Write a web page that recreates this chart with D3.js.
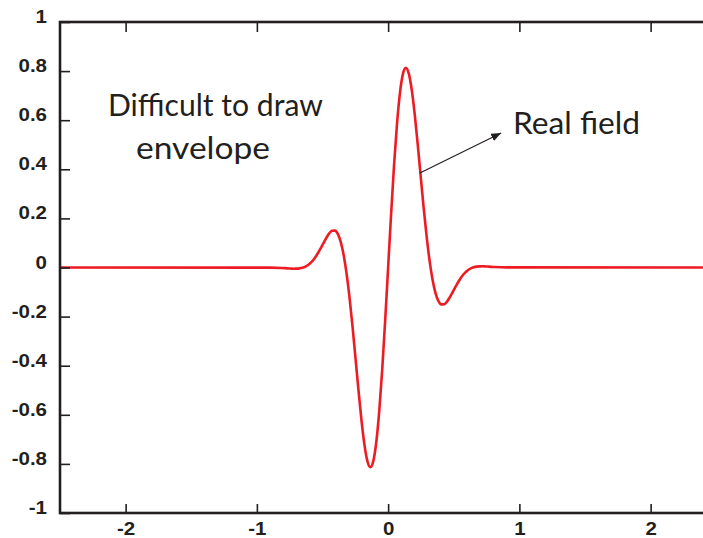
<!DOCTYPE html>
<html>
<head>
<meta charset="utf-8">
<script src="https://cdn.jsdelivr.net/npm/d3@7"></script>
<style>
  html, body { margin: 0; padding: 0; background: #ffffff; overflow: hidden; }
  svg { display: block; }
</style>
</head>
<body>
<script>
// Real part of a short pulse: sample positions and field values
const fieldX = [
  -2.5, -0.9, -0.81, -0.7875, -0.765, -0.7425, -0.72, -0.6975, -0.675, -0.6525, -0.63, -0.6075,
  -0.585, -0.5625, -0.54, -0.5175, -0.495, -0.4725, -0.45, -0.4275, -0.405, -0.3825, -0.36,
  -0.3375, -0.315, -0.2925, -0.27, -0.2475, -0.225, -0.2025, -0.18, -0.1575, -0.135, -0.1125,
  -0.09, -0.0675, -0.045, -0.0225,
  0,
  0.0225, 0.045, 0.0675, 0.09, 0.1125, 0.135, 0.1575, 0.18, 0.2025, 0.225, 0.2475, 0.27,
  0.2925, 0.315, 0.3375, 0.36, 0.3825, 0.405, 0.4275, 0.45, 0.4725, 0.495, 0.5175, 0.54,
  0.5625, 0.585, 0.6075, 0.63, 0.6525, 0.675, 0.6975, 0.72, 0.7425, 0.765, 0.7875, 0.81,
  0.9, 2.5
];
const fieldY = [
  0, -0.0004, -0.0020, -0.0027, -0.0035, -0.0043, -0.0048, -0.0047, -0.0036, -0.0010, 0.0037, 0.0111,
  0.0218, 0.0360, 0.0539, 0.0746, 0.0970, 0.1190, 0.1378, 0.1496, 0.1503, 0.1358, 0.1022,
  0.0469, -0.0311, -0.1305, -0.2474, -0.3751, -0.5045, -0.6245, -0.7234, -0.7894, -0.8131, -0.7876,
  -0.7106, -0.5842, -0.4155, -0.2159,
  0,
  0.2159, 0.4155, 0.5842, 0.7106, 0.7876, 0.8131, 0.7894, 0.7234, 0.6245, 0.5045, 0.3751, 0.2474,
  0.1305, 0.0311, -0.0469, -0.1022, -0.1358, -0.1503, -0.1496, -0.1378, -0.1190, -0.0970, -0.0746, -0.0539,
  -0.0360, -0.0218, -0.0111, -0.0037, 0.0010, 0.0036, 0.0047, 0.0048, 0.0043, 0.0035, 0.0027, 0.0020,
  0.0004, 0
];

const xTicks = [-2, -1, 0, 1, 2];
const xTickLabels = ["-2", "-1", "0", "1", "2"];
const yTicks = [-1, -0.8, -0.6, -0.4, -0.2, 0, 0.2, 0.4, 0.6, 0.8, 1];
const yTickLabels = ["-1", "-0.8", "-0.6", "-0.4", "-0.2", "0", "0.2", "0.4", "0.6", "0.8", "1"];

const noteLines = ["Difficult to draw", "envelope"];
const curveLabel = "Real field";
// arrow from a point on the curve out to the label (data units)
const arrowFrom = [0.242, 0.385];
const arrowTo = [0.861, 0.548];

const W = 703, H = 538;
const x = d3.scaleLinear().domain([-2.5, 2.5]).range([60, 716.25]);
const y = d3.scaleLinear().domain([-1, 1]).range([513, 22]);

const ink = "#231f20";
const red = "#ed1c24";

const svg = d3.select("body").append("svg")
  .attr("width", W).attr("height", H);

const defs = svg.append("defs");
defs.append("clipPath").attr("id", "plot-clip")
  .append("rect")
  .attr("x", x(-2.5)).attr("y", y(1))
  .attr("width", x(2.5) - x(-2.5)).attr("height", y(-1) - y(1));

// curve
const pts = fieldX.map((v, i) => [v, fieldY[i]]);
svg.append("path")
  .datum(pts)
  .attr("clip-path", "url(#plot-clip)")
  .attr("fill", "none")
  .attr("stroke", red)
  .attr("stroke-width", 2.6)
  .attr("stroke-linejoin", "round")
  .attr("d", d3.line().x(d => x(d[0])).y(d => y(d[1])).curve(d3.curveMonotoneX));

// inward ticks on all sides
const tickStyle = g => {
  g.select(".domain").remove();
  g.selectAll(".tick line").attr("stroke", ink).attr("stroke-width", 1.6);
  g.selectAll("text")
    .attr("fill", ink)
    .style("font-family", "'Liberation Sans', Arial, Helvetica, sans-serif")
    .style("font-weight", "bold")
    .style("font-size", "18px");
};

svg.append("g")
  .attr("transform", `translate(${x(-2.5)},0)`)
  .call(d3.axisLeft(y).tickValues(yTicks).tickSize(-10).tickPadding(13)
    .tickFormat((d, i) => yTickLabels[i]))
  .call(tickStyle)
  .call(g => g.selectAll("text")
    .attr("dy", "0.5")
    .attr("transform", "scale(1.14,1)")
    .attr("x", -13 / 1.14));

svg.append("g")
  .attr("transform", `translate(0,${y(-1)})`)
  .call(d3.axisBottom(x).tickValues(xTicks).tickSize(-9)
    .tickFormat((d, i) => xTickLabels[i]))
  .call(tickStyle)
  .call(g => g.selectAll("text").attr("y", 22).attr("dy", "0")
    .attr("transform", "scale(1.14,1)"));

svg.append("g")
  .attr("transform", `translate(0,${y(1)})`)
  .call(d3.axisTop(x).tickValues(xTicks).tickSize(-10).tickFormat(() => ""))
  .call(tickStyle);

svg.append("g")
  .attr("transform", `translate(${x(2.5)},0)`)
  .call(d3.axisRight(y).tickValues(yTicks).tickSize(-10).tickFormat(() => ""))
  .call(tickStyle);

// frame
svg.append("rect")
  .attr("x", x(-2.5)).attr("y", y(1))
  .attr("width", x(2.5) - x(-2.5)).attr("height", y(-1) - y(1))
  .attr("fill", "none").attr("stroke", ink).attr("stroke-width", 2.6);

// annotations
const noteFont = "Lato, 'Noto Sans', 'DejaVu Sans', sans-serif";
const note = (txt, px, py, len) => svg.append("text")
  .attr("x", px).attr("y", py)
  .attr("fill", ink)
  .attr("textLength", len)
  .attr("lengthAdjust", "spacingAndGlyphs")
  .style("font-family", noteFont)
  .style("font-weight", 400)
  .style("font-size", "30px")
  .text(txt);
note(noteLines[0], 108, 116, 215);
note(noteLines[1], 136, 159, 134);
note(curveLabel, 513, 134, 127);

defs.append("marker")
  .attr("id", "arrow-head")
  .attr("viewBox", "0 0 10 8")
  .attr("refX", 10).attr("refY", 4)
  .attr("markerWidth", 10).attr("markerHeight", 8)
  .attr("markerUnits", "userSpaceOnUse")
  .attr("orient", "auto")
  .append("path").attr("d", "M0,0 L10,4 L0,8 Z").attr("fill", ink);

svg.append("line")
  .attr("x1", x(arrowFrom[0])).attr("y1", y(arrowFrom[1]))
  .attr("x2", x(arrowTo[0])).attr("y2", y(arrowTo[1]))
  .attr("stroke", ink).attr("stroke-width", 1.2)
  .attr("marker-end", "url(#arrow-head)");
</script>
</body>
</html>
